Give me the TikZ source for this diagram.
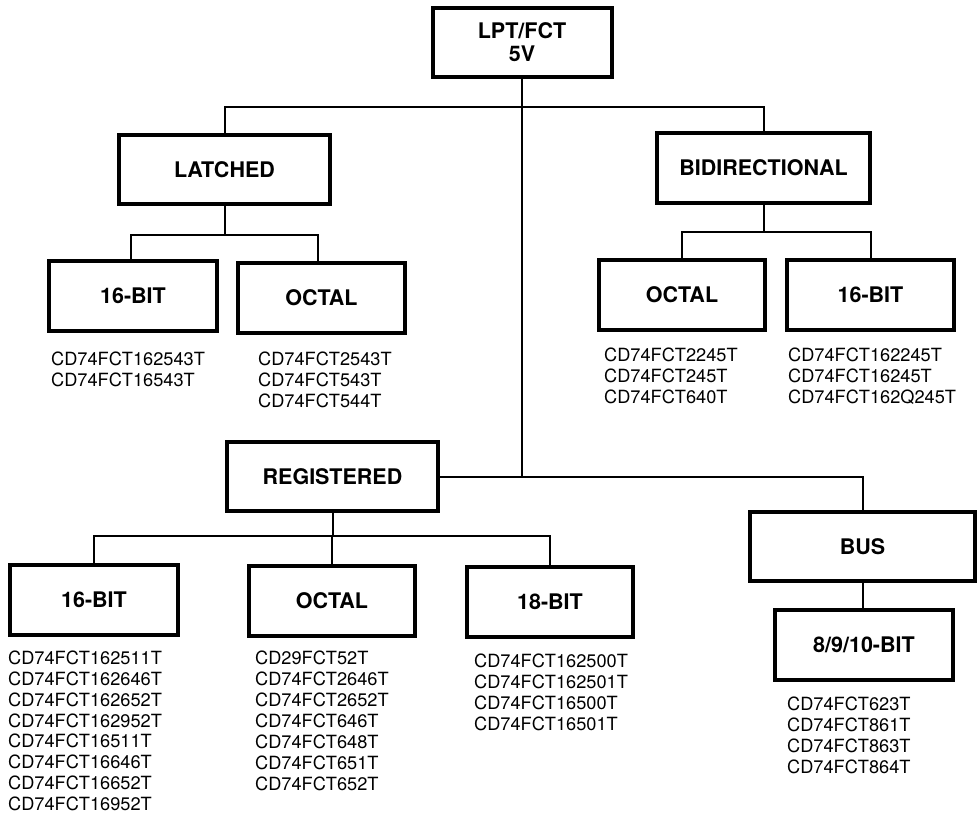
\documentclass[tikz,border=0pt]{standalone}
\usepackage{fontspec}
\setmainfont{TeX Gyre Heros}
\begin{document}
\begin{tikzpicture}[x=1pt,y=-1pt,
  box/.style={draw, line width=4pt, inner sep=0pt, align=center,
    font=\bfseries\fontsize{21.5}{23}\selectfont},
  parts/.style={anchor=north west, inner sep=0pt, align=left,
    font=\fontsize{18.2}{20.9}\selectfont},
  link/.style={line width=2pt}]
\useasboundingbox (0,0) rectangle (977,815);
% boxes
\node[box, minimum width=179pt, minimum height=69pt] (top) at (522,42.5) {LPT/FCT\\5V};
\node[box, minimum width=211pt, minimum height=69pt] (latched) at (224.5,169.5) {LATCHED};
\node[box, minimum width=213pt, minimum height=70pt] (bidir) at (763.5,168) {BIDIRECTIONAL};
\node[box, minimum width=168pt, minimum height=70pt] (L16) at (133,296) {16-BIT};
\node[box, minimum width=167pt, minimum height=70pt] (Loct) at (321.5,298) {OCTAL};
\node[box, minimum width=166pt, minimum height=70pt] (Boct) at (682,295) {OCTAL};
\node[box, minimum width=167pt, minimum height=70pt] (B16) at (870.5,295) {16-BIT};
\node[box, minimum width=211pt, minimum height=69pt] (reg) at (332.5,476.5) {REGISTERED};
\node[box, minimum width=168pt, minimum height=70pt] (R16) at (94,600) {16-BIT};
\node[box, minimum width=166pt, minimum height=70pt] (Roct) at (332,601) {OCTAL};
\node[box, minimum width=166pt, minimum height=70pt] (R18) at (550,602) {18-BIT};
\node[box, minimum width=225pt, minimum height=69pt] (bus) at (862.5,546.5) {BUS};
\node[box, minimum width=178pt, minimum height=70pt] (b8) at (864,645) {8/9/10-BIT};
% bus coordinates
\coordinate (topbus) at (0,107);
\coordinate (lbus) at (0,235);
\coordinate (bbus) at (0,232);
\coordinate (rbus) at (0,536);
% connectors
\draw[link] (top.south) -- (top.south |- reg.east);
\draw[link] (latched.north) -- (latched.north |- topbus) -- (bidir.north |- topbus) -- (bidir.north);
\draw[link] (latched.south) -- (latched.south |- lbus);
\draw[link] ([xshift=-2pt]L16.north) -- ([xshift=-2pt]L16.north |- lbus) -- ([xshift=-4pt]Loct.north |- lbus) -- ([xshift=-4pt]Loct.north);
\draw[link] (bidir.south) -- (bidir.south |- bbus);
\draw[link] (Boct.north) -- (Boct.north |- bbus) -- (B16.north |- bbus) -- (B16.north);
\draw[link] (reg.east) -- (bus.north |- reg.east) -- (bus.north);
\draw[link] (reg.south) -- (reg.south |- rbus);
\draw[link] (R16.north) -- (R16.north |- rbus) -- (R18.north |- rbus) -- (R18.north);
\draw[link] (Roct.north) -- (Roct.north |- rbus);
\draw[link] (bus.south) -- (bus.south |- b8.north);
% part lists
\node[parts] (tL16) at (51,351.5) {CD74FCT162543T\\CD74FCT16543T};
\node[parts] (tLoct) at (258,351.5) {CD74FCT2543T\\CD74FCT543T\\CD74FCT544T};
\node[parts] (tBoct) at (604,347.5) {CD74FCT2245T\\CD74FCT245T\\CD74FCT640T};
\node[parts] (tB16) at (788,347.5) {CD74FCT162245T\\CD74FCT16245T\\CD74FCT162Q245T};
\node[parts] (tR16) at (8,650.5) {CD74FCT162511T\\CD74FCT162646T\\CD74FCT162652T\\CD74FCT162952T\\CD74FCT16511T\\CD74FCT16646T\\CD74FCT16652T\\CD74FCT16952T};
\node[parts] (tRoct) at (255,651) {CD29FCT52T\\CD74FCT2646T\\CD74FCT2652T\\CD74FCT646T\\CD74FCT648T\\CD74FCT651T\\CD74FCT652T};
\node[parts] (tR18) at (474,653.5) {CD74FCT162500T\\CD74FCT162501T\\CD74FCT16500T\\CD74FCT16501T};
\node[parts] (tb8) at (787,696.5) {CD74FCT623T\\CD74FCT861T\\CD74FCT863T\\CD74FCT864T};
\end{tikzpicture}
\end{document}
